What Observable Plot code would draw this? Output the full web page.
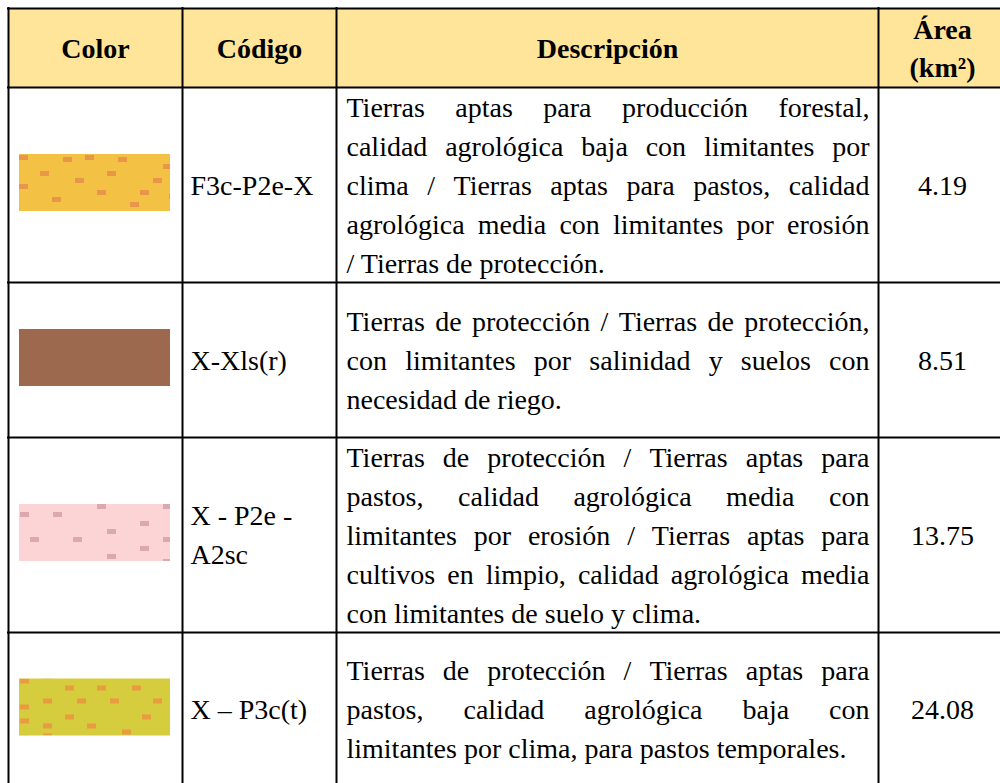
<!DOCTYPE html>
<html>
<head>
<meta charset="utf-8">
<script src="https://cdn.jsdelivr.net/npm/d3@7"></script>
<script src="https://cdn.jsdelivr.net/npm/@observablehq/plot@0.6"></script>
<style>
  html, body { margin: 0; padding: 0; background: #fff; overflow: hidden; }
  #chart svg { display: block; }
</style>
</head>
<body>
<div id="chart"></div>
<script>
// ---------- DATA ----------
const headers = [["Color"], ["Código"], ["Descripción"], ["Área", "(km²)"]];
const codes = [["F3c-P2e-X"], ["X-Xls(r)"], ["X - P2e -", "A2sc"], ["X – P3c(t)"]];
const areas = [4.19, 8.51, 13.75, 24.08];
const swatchIds = ["pat-f3c", "pat-xxls", "pat-xp2e", "pat-xp3c"];
const descriptions = [
  ["Tierras aptas para producción forestal,",
   "calidad agrológica baja con limitantes por",
   "clima / Tierras aptas para pastos, calidad",
   "agrológica media con limitantes por erosión",
   "/ Tierras de protección."],
  ["Tierras de protección / Tierras de protección,",
   "con limitantes por salinidad y suelos con",
   "necesidad de riego."],
  ["Tierras de protección / Tierras aptas para",
   "pastos, calidad agrológica media con",
   "limitantes por erosión / Tierras aptas para",
   "cultivos en limpio, calidad agrológica media",
   "con limitantes de suelo y clima."],
  ["Tierras de protección / Tierras aptas para",
   "pastos, calidad agrológica baja con",
   "limitantes por clima, para pastos temporales."]
];

// ---------- LAYOUT ----------
const W = 1000, H = 783;
const colEdges = [8, 182, 336, 878, 1006];
const rowEdges = [8, 87, 282, 437, 632, 786];
const fontFamily = "Liberation Serif, Times New Roman, Times, Nimbus Roman, DejaVu Serif, Noto Serif, serif";
const fontSize = 28;
const lineH = 39;
const baseOff = 9.5;
const descLeft = 346, descRight = 869;
const codeLeft = 190;
const swatchX1 = 19, swatchX2 = 170, swatchH = 57;

const ctx = document.createElement("canvas").getContext("2d");
ctx.font = `${fontSize}px ${fontFamily}`;
const measure = s => ctx.measureText(s).width;

const mid = i => (colEdges[i] + colEdges[i + 1]) / 2;
const rowCenter = r => (rowEdges[r + 1] + rowEdges[r + 2]) / 2;
const headerCenter = (rowEdges[0] + rowEdges[1]) / 2;

function lineBaselines(center, n, lh = lineH) {
  return d3.range(n).map(k => center - (n - 1) / 2 * lh + k * lh + baseOff);
}

const headerText = [];
headers.forEach((lines, i) => {
  const ys = lineBaselines(headerCenter, lines.length, 38);
  lines.forEach((t, k) => headerText.push({x: mid(i), y: ys[k], t}));
});

const codeText = [], areaText = [];
codes.forEach((lines, r) => {
  const ys = lineBaselines(rowCenter(r), lines.length);
  lines.forEach((t, k) => codeText.push({x: codeLeft, y: ys[k], t}));
  areaText.push({x: mid(3), y: rowCenter(r) + baseOff, t: areas[r].toFixed(2)});
});

const descWords = [];
descriptions.forEach((lines, r) => {
  const ys = lineBaselines(rowCenter(r), lines.length);
  lines.forEach((line, k) => {
    const last = k === lines.length - 1;
    if (last) { descWords.push({x: descLeft, y: ys[k], t: line}); return; }
    const words = line.split(" ");
    const total = d3.sum(words, measure);
    const gap = (descRight - descLeft - total) / (words.length - 1);
    let x = descLeft;
    words.forEach(w => { descWords.push({x, y: ys[k], t: w}); x += measure(w) + gap; });
  });
});

const swatches = swatchIds.map((id, r) => ({
  x1: swatchX1, x2: swatchX2,
  y1: rowCenter(r) - 2 - swatchH / 2, y2: rowCenter(r) - 2 + swatchH / 2,
  fill: `url(#${id})`
}));

const hLines = rowEdges.slice(0, 5);
const vLines = colEdges.slice(0, 4);

const textCommon = {x: "x", y: "y", text: "t", fontFamily, fontSize, fill: "#000", lineAnchor: "bottom"};

const plot = Plot.plot({
  width: W, height: H,
  margin: 0,
  x: {domain: [0, W], range: [0, W], axis: null},
  y: {domain: [0, H], range: [0, H], axis: null},
  color: {type: "identity"},
  style: {background: "#fff", overflow: "hidden", fontFamily},
  marks: [
    Plot.rect([0], {x1: colEdges[0], x2: colEdges[4], y1: rowEdges[0], y2: rowEdges[1], fill: "#FFE599"}),
    Plot.rect(swatches, {x1: "x1", x2: "x2", y1: "y1", y2: "y2", fill: "fill"}),
    Plot.ruleY(hLines, {y: d => d, x1: colEdges[0] - 1, x2: colEdges[4], stroke: "#000", strokeWidth: 2}),
    Plot.ruleX(vLines, {x: d => d, y1: rowEdges[0] - 1, y2: rowEdges[5], stroke: "#000", strokeWidth: 2}),
    Plot.text(headerText, {...textCommon, textAnchor: "middle", fontWeight: "bold"}),
    Plot.text(codeText, {...textCommon, textAnchor: "start"}),
    Plot.text(areaText, {...textCommon, textAnchor: "middle"}),
    Plot.text(descWords, {...textCommon, textAnchor: "start"})
  ]
});

const patSpecs = [
  {id: "pat-f3c", r: 0, base: "#F3C244", dash: "#E8914B",
   pts: [[0,1],[44,3],[99,3],[144,10],[21,17],[88,17],[56,24],[134,24],[0,30],[78,36],[121,36],[33,43],[111,48],[66,1],[150,40]]},
  {id: "pat-xxls", r: 1, base: "#9D694E", dash: "#9D694E", pts: []},
  {id: "pat-xp2e", r: 2, base: "#FDD4D6", dash: "#D9A3AC",
   pts: [[1,8],[34,8],[78,0],[144,0],[121,17],[11,33],[54,33],[88,25],[121,42],[144,33],[88,50],[144,55]]},
  {id: "pat-xp3c", r: 3, base: "#D5CD3D", dash: "#EA963F",
   pts: [[1,0],[46,7],[78,7],[113,7],[24,20],[58,20],[91,20],[134,20],[1,26],[46,36],[123,36],[24,45],[68,45],[103,51],[24,55],[1,40]]}
];
const defs = d3.select(plot).insert("defs", ":first-child");
patSpecs.forEach(p => {
  const s = swatches[p.r];
  const pat = defs.append("pattern").attr("id", p.id).attr("patternUnits", "userSpaceOnUse")
    .attr("x", s.x1).attr("y", s.y1).attr("width", s.x2 - s.x1).attr("height", s.y2 - s.y1);
  pat.append("rect").attr("width", s.x2 - s.x1).attr("height", s.y2 - s.y1).attr("fill", p.base);
  p.pts.forEach(([px, py]) => pat.append("rect").attr("x", px).attr("y", py)
    .attr("width", 9).attr("height", 5).attr("fill", p.dash).attr("opacity", 0.9));
});

document.getElementById("chart").append(plot);
</script>
</body>
</html>
